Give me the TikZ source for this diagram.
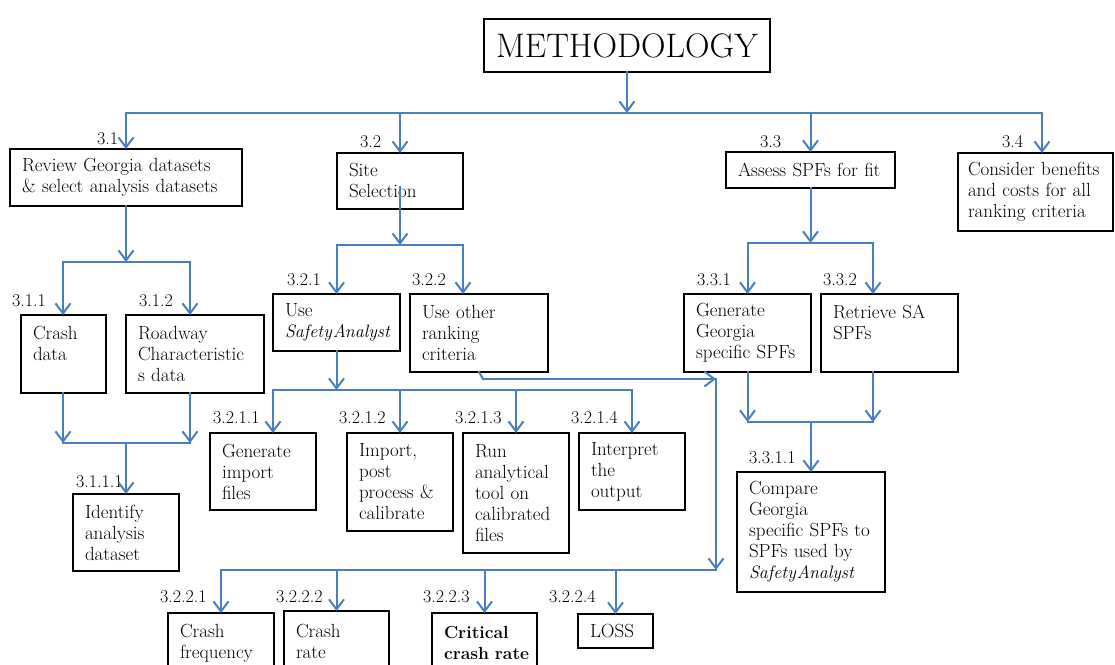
\documentclass[tikz,border=0pt]{standalone}
\usetikzlibrary{arrows.meta}
\definecolor{linkblue}{RGB}{74,126,189}
\newcommand{\saname}{{\fontsize{18}{21}\selectfont\itshape Safety\kern1pt Analyst}}
\tikzset{
  every node/.style={font=\fontsize{19}{21}\selectfont},
  box/.style={draw,line width=2.6pt,anchor=north west,align=left,inner xsep=12pt,inner ysep=4pt,outer sep=0pt,
    execute at begin node={\hyphenpenalty=10000\exhyphenpenalty=10000}},
  num/.style={anchor=base west,inner sep=0pt,font=\fontsize{18}{21}\selectfont},
  link/.style={linkblue,line width=2pt,line cap=rect},
  arr/.style={link,-{Straight Barb[length=10pt,width=15pt]}},
}
\begin{document}
\begin{tikzpicture}[x=1pt,y=-1pt]
    \useasboundingbox (0,0) rectangle (1115,664);
    \clip (0,0) rectangle (1115,664);
    % top level
    \node[box,align=center,minimum width=285pt,minimum height=53pt,font=\fontsize{34}{38}\selectfont] (meth) at (484,19) {METHODOLOGY};
    \node[box,text width=208pt,minimum height=57pt] (b31) at (10,149) {Review~Georgia~datasets\\\&~select~analysis~datasets};
    \node[box,text width=102pt,minimum height=56pt] (b32) at (337,153) {Site\\Selection};
    \node[box,text width=145pt,minimum height=36pt] (b33) at (726,152) {Assess~SPFs~for~fit};
    \node[box,text width=135pt,minimum height=78pt,inner xsep=10pt] (b34) at (958,153) {\mbox{Consider benefits}\\and~costs~for~all\\ranking~criteria};
    \node[num] (n31) at (97,144) {3.1};
    \node[num] (n32) at (360,147) {3.2};
    \node[num] (n33) at (760,147) {3.3};
    \node[num] (n34) at (1002,147) {3.4};
    % 3.1 branch
    \node[box,text width=61pt,minimum height=78pt] (b311) at (21,315) {Crash\\data\\~};
    \node[box,text width=114pt,minimum height=78pt] (b312) at (126,315) {Roadway\\Characteristic\\s~data};
    \node[box,text width=82pt,minimum height=77pt] (b3111) at (73,494) {Identify\\analysis\\dataset};
    \node[num] (n311) at (12,306) {3.1.1};
    \node[num] (n312) at (139,306) {3.1.2};
    \node[num] (n3111) at (76,487) {3.1.1.1};
    % 3.2 branch
    \node[box,text width=103pt,minimum height=57pt] (b321) at (273,294) {Use\\\saname};
    \node[box,text width=114pt,minimum height=78pt] (b322) at (410,294) {Use~other\\ranking\\criteria};
    \node[num] (n321) at (287,285) {3.2.1};
    \node[num] (n322) at (412,285) {3.2.2};
    \node[box,text width=82pt,minimum height=77pt] (b3211) at (210,433) {Generate\\import\\files};
    \node[box,text width=82pt,minimum height=98pt] (b3212) at (347,433) {Import,\\post\\process~\&\\calibrate};
    \node[box,text width=82pt,minimum height=120pt] (b3213) at (463,433) {Run\\analytical\\tool~on\\calibrated\\files};
    \node[box,text width=82pt,minimum height=77pt] (b3214) at (579,433) {Interpret\\the\\output};
    \node[num] (n3211) at (213,423) {3.2.1.1};
    \node[num] (n3212) at (339,423) {3.2.1.2};
    \node[num] (n3213) at (455,423) {3.2.1.3};
    \node[num] (n3214) at (571,423) {3.2.1.4};
    \node[box,text width=82pt,minimum height=60pt] (b3221) at (168,613) {Crash\\frequency};
    \node[box,text width=81pt,minimum height=60pt] (b3222) at (284,611) {Crash\\rate};
    \node[box,text width=81pt,minimum height=60pt,font=\fontsize{17.5}{21}\selectfont\bfseries] (b3223) at (432,613) {Critical\\crash~rate};
    \node[box,text width=51pt,minimum height=34pt] (b3224) at (578,614) {LOSS};
    \node[num] (n3221) at (160,602) {3.2.2.1};
    \node[num] (n3222) at (276,602) {3.2.2.2};
    \node[num] (n3223) at (423,602) {3.2.2.3};
    \node[num] (n3224) at (549,602) {3.2.2.4};
    % 3.3 branch
    \node[box,text width=103pt,minimum height=78pt] (b331) at (684,294) {Generate\\Georgia\\specific~SPFs};
    \node[box,text width=113pt,minimum height=78pt] (b332) at (821,294) {Retrieve~SA\\SPFs\\~};
    \node[box,text width=124pt,minimum height=120pt] (b3311) at (737,472) {Compare\\Georgia\\specific~SPFs~to\\SPFs~used~by\\\saname};
    \node[num] (n331) at (697,285) {3.3.1};
    \node[num] (n332) at (823,285) {3.3.2};
    \node[num] (n3311) at (749,463) {3.3.1.1};

    % connectors, top bus
    \coordinate (j0) at (631,113);
    \coordinate (t34) at (1042,113);
    \draw[arr] (meth) -- (meth |- j0);
    \draw[link] (j0 -| b31) -- (t34);
    \draw[arr] (j0 -| b31) -- (b31);
    \draw[arr] (j0 -| b32) -- (b32);
    \draw[arr] (j0 -| b33) -- (b33);
    \draw[arr] (t34) -- (t34 |- b34.north);
    % 3.1
    \coordinate (j1) at (126,262);
    \coordinate (j1a) at (63,262);
    \coordinate (j1b) at (190,262);
    \coordinate (j2) at (126,443);
    \draw[arr] (b31) -- (j1);
    \draw[link] (j1a) -- (j1b);
    \draw[arr] (j1a) -- (j1a |- b311.north);
    \draw[arr] (j1b) -- (j1b |- b312.north);
    \draw[arr] (j1a |- b311.south) -- (j1a |- j2);
    \draw[arr] (j1b |- b312.south) -- (j1b |- j2);
    \draw[link] (j1a |- j2) -- (j1b |- j2);
    \draw[arr] (j2) -- (b3111);
    % 3.2
    \coordinate (j3) at (400,245);
    \coordinate (j3b) at (463,245);
    \draw[arr] ([yshift=-6pt]b32.center) -- (j3);
    \draw[link] (j3 -| b321) -- (j3b);
    \draw[arr] (j3 -| b321) -- (b321);
    \draw[arr] (j3b) -- (j3b |- b322.north);
    \coordinate (j4) at (337,390);
    \coordinate (j4a) at (273,390);
    \draw[arr] (b321) -- (b321 |- j4);
    \draw[link] (j4a) -- (j4 -| b3214);
    \draw[arr] (j4a) -- (j4a |- b3211.north);
    \draw[arr] (j4 -| b3212) -- (b3212);
    \draw[arr] (j4 -| b3213) -- (b3213);
    \draw[arr] (j4 -| b3214) -- (b3214);
    \coordinate (k1) at (483,379);
    \coordinate (k2) at (716,379);
    \coordinate (k3) at (716,570);
    \draw[link] (b322.south) -- (k1);
    \draw[arr] (k1) -- (k2);
    \draw[arr] (k2) -- (k3);
    \draw[link] (k3) -- (k3 -| b3221);
    \draw[arr] (k3 -| b3221) -- (b3221);
    \draw[arr] (k3 -| b3222) -- (b3222);
    \draw[arr] (k3 -| b3223) -- (b3223);
    \draw[arr] (k3 -| b3224) -- (b3224);
    % 3.3
    \coordinate (j5) at (810,243);
    \coordinate (j5b) at (873,243);
    \coordinate (j6) at (811,422);
    \draw[arr] (b33) -- (b33 |- j5);
    \draw[link] (j5 -| b331) -- (j5b);
    \draw[arr] (j5 -| b331) -- (b331);
    \draw[arr] (j5b) -- (j5b |- b332.north);
    \draw[arr] (b331) -- (b331 |- j6);
    \draw[arr] (j5b |- b332.south) -- (j5b |- j6);
    \draw[link] (j6 -| b331) -- (j5b |- j6);
    \draw[arr] (j6) -- (b3311);
\end{tikzpicture}
\end{document}
